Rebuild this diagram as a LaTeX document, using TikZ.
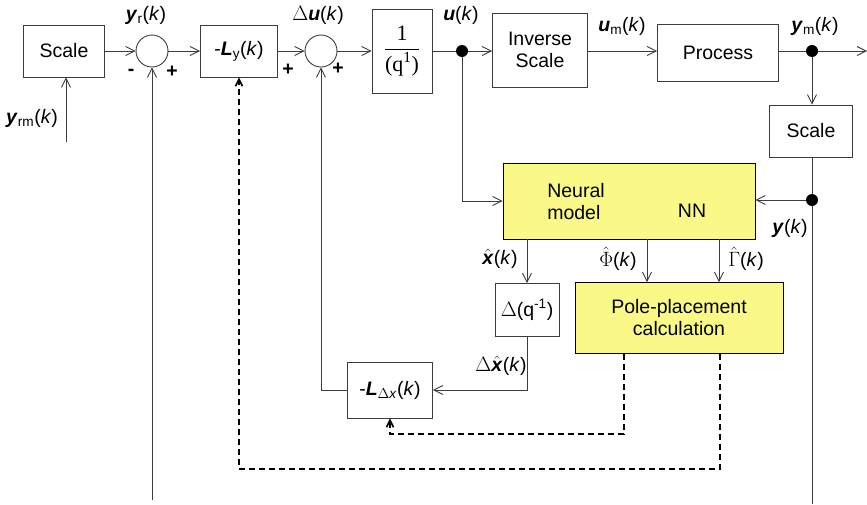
\documentclass[tikz,border=0pt]{standalone}
\usepackage{amsmath}
\usepackage{fontspec}
\setmainfont{Liberation Sans}
\newfontfamily\serifface{Liberation Serif}
\usetikzlibrary{arrows.meta,positioning,calc}
\definecolor{linegray}{RGB}{60,60,60}
\definecolor{nnyellow}{RGB}{250,249,135}
\newcommand{\bv}[1]{\textbf{\textit{#1}}}
\tikzset{
  blk/.style={rectangle,draw=linegray,fill=white,line width=0.9pt,inner sep=0pt,align=center},
  yblk/.style={blk,draw=black,fill=nnyellow},
  sumc/.style={circle,draw=linegray,fill=white,line width=0.9pt,minimum size=32pt,inner sep=0pt},
  dot/.style={circle,fill=black,minimum size=12pt,inner sep=0pt},
  lbl/.style={inner sep=1pt},
  fl/.style={-{Straight Barb[length=9pt,width=9pt]},draw=linegray,line width=0.9pt},
  ln/.style={draw=linegray,line width=0.9pt},
  dfl/.style={-{Straight Barb[length=7pt,width=7pt]},draw=black,line width=1.6pt,dash pattern=on 6pt off 4pt},
}

\begin{document}
\begin{tikzpicture}[x=1pt,y=-1pt,font=\fontsize{19.5}{22}\selectfont]
  \useasboundingbox (0,0) rectangle (867,504);
  % forward path
  \node[blk,minimum width=81pt,minimum height=52pt] (scaleA) at (64,51) {Scale};
  \node[sumc] (sumA) at (152,51) {};
  \node[blk,minimum width=77pt,minimum height=52pt] (ly) at (239,51) {-\bv{L}\textsubscript{y}(\textit{k})};
  \node[sumc] (sumB) at (321,51) {};
  \node[blk,minimum width=60pt,minimum height=84pt] (integ) at (402,51)
       {\serifface\fontsize{22}{24}\selectfont$\dfrac{\text{1}}{\text{(q}^{\text{1}}\text{)}}$};
  \node[dot] (dotU) at (462,51) {};
  \node[blk,minimum width=95pt,minimum height=74pt] (inv) at (540,50) {Inverse\\Scale};
  \node[blk,minimum width=121pt,minimum height=57pt] (proc) at (718,53) {Process};
  \node[dot] (dotYm) at (812,51) {};
  \node[blk,minimum width=83pt,minimum height=52pt] (scaleB) at (811,131) {Scale};
  \node[dot] (dotY) at (812,200) {};
  % model and controller design
  \node[yblk,minimum width=252pt,minimum height=76pt] (nn) at (629,201) {};
  \node[lbl,align=left] (nntxt) at (576,202) {Neural\\model};
  \node[lbl] (nnname) at (692,211) {NN};
  \node[blk,minimum width=64pt,minimum height=53pt] (dq) at (527,310) {$\Delta$(q\textsuperscript{-1})};
  \node[yblk,minimum width=208pt,minimum height=71pt] (pp) at (679,318) {Pole-placement\\calculation};
  \node[blk,minimum width=85pt,minimum height=56pt] (ldx) at (390,390)
       {-\bv{L}\textsubscript{$\Delta$\textit{x}}(\textit{k})};
  % free ends and corners
  \coordinate (inYrm) at (66,142);
  \coordinate (inBot) at (152,500);
  \coordinate (outYm) at (867,51);
  \coordinate (outBot) at (812,504);
  \coordinate (phiX) at (647,0);
  \coordinate (gamX) at (719,0);
  \coordinate (dA) at (624,434);
  \coordinate (dB) at (720,469);
  % signal labels
  \node[lbl] at (146,15) {\bv{y}\textsubscript{r}(\textit{k})};
  \node[lbl] at (32,118) {\bv{y}\textsubscript{rm}(\textit{k})};
  \node[lbl] at (131,72) {\textbf{-}};
  \node[lbl] at (172,72) {\textbf{+}};
  \node[lbl] at (288,70) {\textbf{+}};
  \node[lbl] at (338,69) {\textbf{+}};
  \node[lbl] at (318,15) {$\Delta$\bv{u}(\textit{k})};
  \node[lbl] at (461,15) {\bv{u}(\textit{k})};
  \node[lbl] at (622,26) {\bv{u}\textsubscript{m}(\textit{k})};
  \node[lbl] at (815,26) {\bv{y}\textsubscript{m}(\textit{k})};
  \node[lbl] at (790,228) {\bv{y}(\textit{k})};
  \node[lbl] at (500,259) {$\hat{\text{\bv{x}}}$(\textit{k})};
  \node[lbl] at (618,259) {$\hat{\Phi}$(\textit{k})};
  \node[lbl] at (746,259) {$\hat{\Gamma}$(\textit{k})};
  \node[lbl] at (501,366) {$\Delta\hat{\text{\bv{x}}}$(\textit{k})};
  % connectors
  \draw[fl] (scaleA) -- (sumA);
  \draw[fl] (inYrm) -- (scaleA.south -| inYrm);
  \draw[fl] (inBot) -- (sumA.south);
  \draw[fl] (sumA) -- (ly);
  \draw[fl] (ly) -- (sumB);
  \draw[fl] (sumB) -- (integ);
  \draw[ln] (integ) -- (dotU);
  \draw[fl] (dotU) -- (dotU -| inv.west);
  \draw[fl] (inv.east |- dotU) -- (proc.west |- dotU);
  \draw[ln] (proc.east |- dotYm) -- (dotYm);
  \draw[fl] (dotYm) -- (outYm);
  \draw[fl] (dotYm) -- (dotYm |- scaleB.north);
  \draw[ln] (dotYm |- scaleB.south) -- (dotY) -- (outBot);
  \draw[fl] (dotY) -- (dotY -| nn.east);
  \draw[fl] (dotU) |- (nn.west);
  \draw[fl] (dq.north |- nn.south) -- (dq.north);
  \draw[fl] (phiX |- nn.south) -- (phiX |- pp.north);
  \draw[fl] (gamX |- nn.south) -- (gamX |- pp.north);
  \draw[fl] (dq.south) |- (ldx.east);
  \draw[fl] (ldx.west) -| (sumB.south);
  % controller gains from the pole placement
  \draw[dfl] (dA |- pp.south) -- (dA) -| (ldx.south);
  \draw[dfl] (dB |- pp.south) -- (dB) -| (ly.south);
\end{tikzpicture}
\end{document}
